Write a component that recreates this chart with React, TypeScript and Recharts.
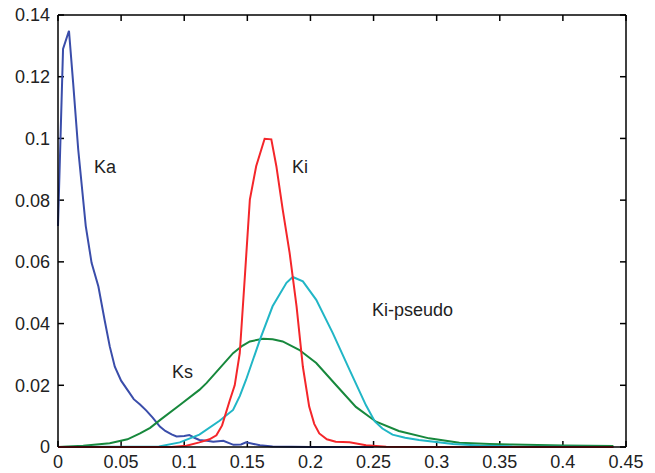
import React from 'react';
import { LineChart, Line, XAxis, YAxis, ReferenceLine } from 'recharts';

const xTicks = [0, 0.05, 0.1, 0.15, 0.2, 0.25, 0.3, 0.35, 0.4, 0.45];
const yTicks = [0, 0.02, 0.04, 0.06, 0.08, 0.1, 0.12, 0.14];

const kaX = [0, 0.004, 0.0087, 0.012, 0.016, 0.022, 0.0266, 0.032, 0.037, 0.041, 0.045, 0.05, 0.055, 0.06, 0.065, 0.07, 0.075, 0.0807, 0.085, 0.09, 0.0939, 0.1, 0.104, 0.108, 0.112, 0.118, 0.123, 0.131, 0.139, 0.145, 0.149, 0.155, 0.16, 0.17, 0.2, 0.25];
const kaY = [0.0716, 0.129, 0.1349, 0.118, 0.0965, 0.0716, 0.0597, 0.052, 0.041, 0.0326, 0.026, 0.0215, 0.0185, 0.0155, 0.0138, 0.0118, 0.0095, 0.0066, 0.0052, 0.0041, 0.0034, 0.0036, 0.0039, 0.003, 0.0023, 0.002, 0.0017, 0.002, 0.0007, 0.0008, 0.0015, 0.001, 0.0006, 0.0002, 0, 0];

const ksX = [0, 0.02, 0.041, 0.055, 0.065, 0.073, 0.081, 0.0965, 0.112, 0.1176, 0.128, 0.1387, 0.146, 0.152, 0.1624, 0.17, 0.178, 0.191, 0.2046, 0.2204, 0.236, 0.252, 0.27, 0.294, 0.318, 0.342, 0.36, 0.4, 0.44];
const ksY = [0, 0.0004, 0.0012, 0.0025, 0.0044, 0.0062, 0.0088, 0.0136, 0.0185, 0.0207, 0.0255, 0.0304, 0.0328, 0.0342, 0.0351, 0.0349, 0.0342, 0.0315, 0.0272, 0.02, 0.013, 0.0082, 0.0052, 0.0028, 0.0014, 0.001, 0.0008, 0.0005, 0.0003];

const kpX = [0, 0.08, 0.0965, 0.112, 0.128, 0.1387, 0.144, 0.149, 0.16, 0.17, 0.181, 0.186, 0.194, 0.2046, 0.2177, 0.231, 0.244, 0.251, 0.257, 0.265, 0.275, 0.286, 0.313, 0.334, 0.36, 0.44];
const kpY = [0, 0.0002, 0.0015, 0.004, 0.0085, 0.012, 0.0165, 0.0218, 0.0348, 0.0456, 0.0532, 0.0551, 0.0537, 0.0477, 0.0369, 0.025, 0.0135, 0.0083, 0.006, 0.004, 0.003, 0.0023, 0.001, 0.0005, 0.0002, 0];

const kiX = [0, 0.09, 0.1017, 0.112, 0.12, 0.1255, 0.13, 0.136, 0.14, 0.144, 0.148, 0.152, 0.157, 0.1637, 0.169, 0.173, 0.178, 0.1835, 0.189, 0.194, 0.199, 0.203, 0.207, 0.213, 0.22, 0.231, 0.244, 0.26, 0.3, 0.44];
const kiY = [0, 0, 0.0004, 0.0015, 0.0025, 0.0038, 0.007, 0.015, 0.02, 0.0304, 0.055, 0.0802, 0.091, 0.0999, 0.0997, 0.091, 0.077, 0.0629, 0.0456, 0.026, 0.0131, 0.0075, 0.0044, 0.0025, 0.0017, 0.0015, 0.0006, 0.0001, 0, 0];

const labelNames = ['Ka', 'Ki', 'Ki-pseudo', 'Ks'];
const labelX = [0.0285, 0.1854, 0.2488, 0.0903];
const labelY = [0.0888, 0.0888, 0.0424, 0.0224];

const X_MAX = 0.45;
const Y_MAX = 0.14;
const X_TICK_LEN = X_MAX * (6 / 568);
const Y_TICK_LEN = Y_MAX * (6 / 432);

const toPts = (xs: number[], ys: number[]) => xs.map((x, i) => ({ x, y: ys[i] }));

const FONT = '"Liberation Sans", Arial, sans-serif';
const TXT = '#222';

const series = [
  { name: 'Ka', data: toPts(kaX, kaY), color: '#3a4daa' },
  { name: 'Ks', data: toPts(ksX, ksY), color: '#17883c' },
  { name: 'Ki-pseudo', data: toPts(kpX, kpY), color: '#21b6c6' },
  { name: 'Ki', data: toPts(kiX, kiY), color: '#f4262a' },
];

const fmt = (v: number) => String(+v.toFixed(2));

export default function App() {
  return (
    <div style={{ position: 'absolute', left: 0, top: 0, width: 655, height: 473, background: '#fff' }}>
      <LineChart
        width={655}
        height={473}
        data={series[1].data}
        margin={{ top: 15, right: 29, bottom: 0, left: 0 }}
      >
        <XAxis
          dataKey="x"
          type="number"
          domain={[0, X_MAX]}
          ticks={xTicks}
          tickFormatter={fmt}
          height={26}
          tickLine={false}
          stroke="#000"
          strokeWidth={1.5}
          tick={{ fontSize: 18, fill: TXT, fontFamily: FONT }}
        />
        <YAxis
          type="number"
          domain={[0, Y_MAX]}
          ticks={yTicks}
          tickFormatter={fmt}
          width={58}
          tickLine={false}
          stroke="#000"
          strokeWidth={1.5}
          tick={{ fontSize: 18, fill: TXT, fontFamily: FONT }}
        />
        <ReferenceLine y={Y_MAX} stroke="#000" strokeWidth={1.5} ifOverflow="visible" />
        <ReferenceLine x={X_MAX} stroke="#000" strokeWidth={1.5} ifOverflow="visible" />
        {xTicks.map((t) => (
          <ReferenceLine key={'xb' + t} ifOverflow="visible" segment={[{ x: t, y: 0 }, { x: t, y: Y_TICK_LEN }]} stroke="#000" strokeWidth={1.5} />
        ))}
        {xTicks.map((t) => (
          <ReferenceLine key={'xt' + t} ifOverflow="visible" segment={[{ x: t, y: Y_MAX }, { x: t, y: Y_MAX - Y_TICK_LEN }]} stroke="#000" strokeWidth={1.5} />
        ))}
        {yTicks.map((t) => (
          <ReferenceLine key={'yl' + t} ifOverflow="visible" segment={[{ x: 0, y: t }, { x: X_TICK_LEN, y: t }]} stroke="#000" strokeWidth={1.5} />
        ))}
        {yTicks.map((t) => (
          <ReferenceLine key={'yr' + t} ifOverflow="visible" segment={[{ x: X_MAX, y: t }, { x: X_MAX - X_TICK_LEN, y: t }]} stroke="#000" strokeWidth={1.5} />
        ))}
        {series.map((s) => (
          <Line
            key={s.name}
            data={s.data}
            dataKey="y"
            type="linear"
            stroke={s.color}
            strokeWidth={2}
            dot={false}
            isAnimationActive={false}
          />
        ))}
        {labelNames.map((n, i) => (
          <Line
            key={'lbl' + n}
            data={[{ x: labelX[i], y: labelY[i] }]}
            dataKey="y"
            stroke="none"
            dot={false}
            isAnimationActive={false}
            label={(p: any) => {
              const px = p.viewBox && p.viewBox.x != null ? p.viewBox.x : p.x;
              const py = p.viewBox && p.viewBox.y != null ? p.viewBox.y : p.y;
              return (
                <text key={n} x={px} y={py} fontSize={18} fontFamily={FONT} fill={TXT}>
                  {n}
                </text>
              );
            }}
          />
        ))}
      </LineChart>
    </div>
  );
}
